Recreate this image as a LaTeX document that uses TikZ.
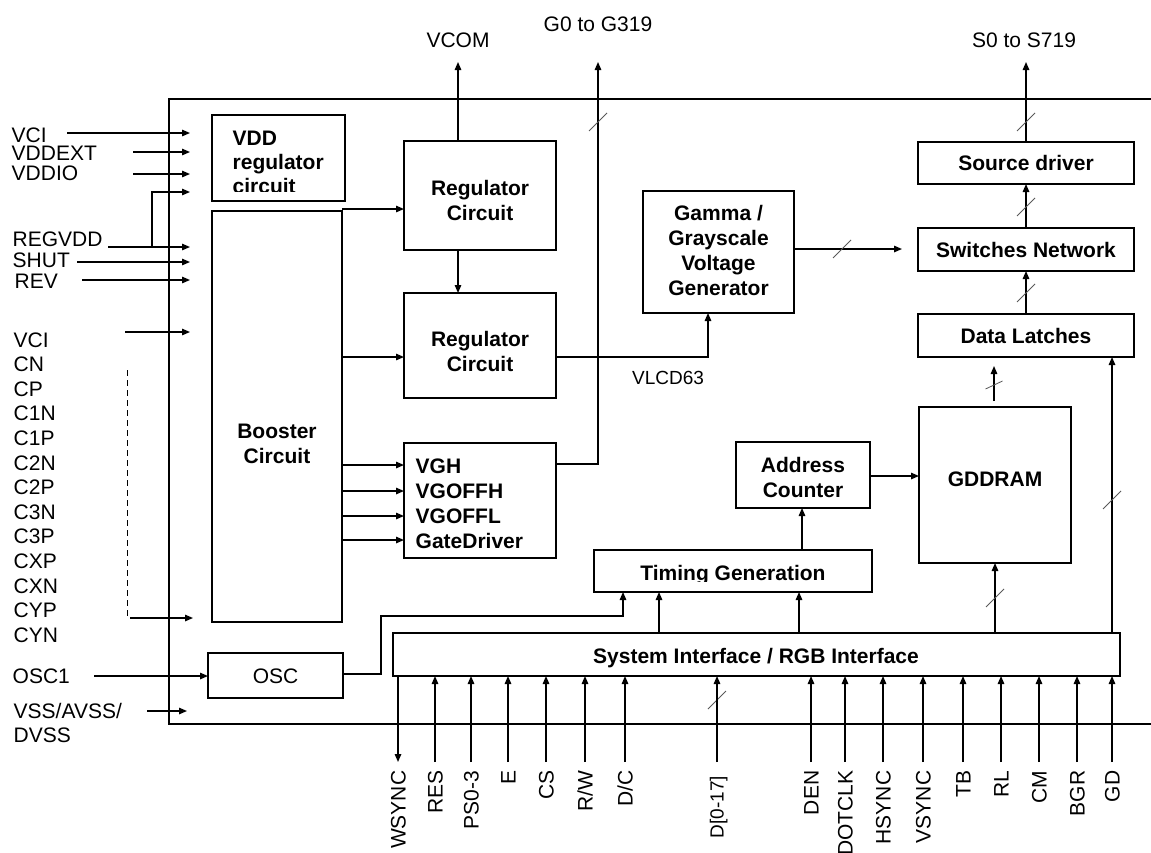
\documentclass[tikz,border=0pt]{standalone}
\usepackage{fontspec}
\setmainfont{Liberation Sans}
\usetikzlibrary{arrows.meta,calc}
\begin{document}
\begin{tikzpicture}[x=1pt,y=-1pt,
  line width=1.4pt,
  blk/.style={draw, line width=1.4pt, inner sep=0pt, outer sep=0pt},
  lbl/.style={font=\fontsize{21}{25}\selectfont, inner sep=0pt, anchor=base west},
  btxt/.style={font=\fontsize{21}{25}\selectfont\bfseries, inner sep=0pt, align=center},
  ntxt/.style={font=\fontsize{21}{25}\selectfont, inner sep=0pt},
  arr/.style={-{Triangle[length=8pt,width=6.5pt]}, line width=1.4pt},
  pinlbl/.style={font=\fontsize{21}{25}\selectfont, inner sep=0pt, rotate=90, anchor=base east},
  slashmark/.pic={\draw[line width=0.8pt, black!65] (-9,9) -- (9,-9);},
  flatslash/.pic={\draw[line width=0.8pt, black!65] (-8.5,4) -- (8.5,-4);}
]
\useasboundingbox (0,0) rectangle (1151,852);

% chip outline
\draw[line width=1.2pt] (1151,99) -- (169,99) -- (169,724) -- (1151,724);

% blocks
\node[blk, minimum width=133pt, minimum height=86pt]  (vdd)    at (278.5,158) {};
\node[blk, minimum width=130pt, minimum height=411pt] (boost)  at (277,416.5) {};
\node[blk, minimum width=152pt, minimum height=109pt] (reg1)   at (480,195.5) {};
\node[blk, minimum width=152pt, minimum height=105pt] (reg2)   at (480,345.5) {};
\node[blk, minimum width=152pt, minimum height=115pt] (vgh)    at (480,500.5) {};
\node[blk, minimum width=151pt, minimum height=122pt] (gamma)  at (718.5,252) {};
\node[blk, minimum width=216pt, minimum height=42pt]  (src)    at (1026,163) {};
\node[blk, minimum width=216pt, minimum height=43pt]  (sw)     at (1026,249.5) {};
\node[blk, minimum width=216pt, minimum height=43pt]  (dl)     at (1026,335.5) {};
\node[blk, minimum width=152pt, minimum height=156pt] (gdd)    at (995,485) {};
\node[blk, minimum width=134pt, minimum height=66pt]  (addr)   at (803,475) {};
\node[blk, minimum width=278pt, minimum height=42pt]  (timing) at (733,571) {};
\node[blk, minimum width=727pt, minimum height=43pt]  (sys)    at (756.5,654.5) {};
\node[blk, minimum width=135pt, minimum height=45pt]  (osc)    at (275.5,675.5) {};

% block texts
\begin{scope}
  \clip (212,115) rectangle (345,191);
  \node[lbl, font=\fontsize{21}{25}\selectfont\bfseries] (tvdd1) at (232,145) {VDD};
  \node[lbl, font=\fontsize{21}{25}\selectfont\bfseries] (tvdd2) at (232,169) {regulator};
  \node[lbl, font=\fontsize{21}{25}\selectfont\bfseries] (tvdd3) at (232,193) {circuit};
\end{scope}
\node[btxt] (tboost) at (277,443.5) {Booster\\Circuit};
\node[btxt] (treg1) at (480,200) {Regulator\\Circuit};
\node[btxt] (treg2) at (480,351) {Regulator\\Circuit};
\node[lbl, font=\fontsize{21}{25}\selectfont\bfseries] (tvgh1) at (415,473.5) {VGH};
\node[lbl, font=\fontsize{21}{25}\selectfont\bfseries] (tvgh2) at (415,498.5) {VGOFFH};
\node[lbl, font=\fontsize{21}{25}\selectfont\bfseries] (tvgh3) at (415,523.5) {VGOFFL};
\node[lbl, font=\fontsize{21}{25}\selectfont\bfseries] (tvgh4) at (415,548.5) {GateDriver};
\node[btxt] (tgamma) at (718.5,250) {Gamma /\\Grayscale\\Voltage\\Generator};
\node[btxt] (tsrc) at (1026,163) {Source driver};
\node[btxt] (tsw) at (1026,250) {Switches Network};
\node[btxt] (tdl) at (1026,336) {Data Latches};
\node[btxt] (tgdd) at (995,479) {GDDRAM};
\node[btxt] (taddr) at (803,477.5) {Address\\Counter};
\begin{scope}
  \clip (594,550) rectangle (872,581.5);
  \node[btxt, anchor=base] (ttim) at (733,580.5) {Timing Generation};
\end{scope}
\node[btxt, anchor=base] (tsys) at (756,663) {System Interface / RGB Interface};
\node[ntxt] (tosc) at (275.5,676) {OSC};

% top labels
\node[ntxt, anchor=base] (vcom) at (458,47) {VCOM};
\node[ntxt, anchor=base] (glbl) at (598,31) {G0 to G319};
\node[ntxt, anchor=base] (slbl) at (1024,47) {S0 to S719};
\node[ntxt, anchor=base, font=\fontsize{19}{22}\selectfont] (vlcd) at (668,384) {VLCD63};

% left labels
\node[lbl] (lvci)  at (11,142)   {VCI};
\node[lbl] (lvde)  at (11,160)   {VDDEXT};
\node[lbl] (lvio)  at (11,180.5) {VDDIO};
\node[lbl] (lreg)  at (12,246.5) {REGVDD};
\node[lbl] (lshut) at (12,267.5) {SHUT};
\node[lbl] (lrev)  at (14,288.5) {REV};
\foreach \t [count=\i from 0] in {VCI,CN,CP,C1N,C1P,C2N,C2P,C3N,C3P,CXP,CXN,CYP,CYN}
  \node[lbl] (lc\i) at (13,{347+24.6*\i}) {\t};
\node[lbl] (losc) at (12,683)   {OSC1};
\node[lbl] (lvss) at (13,718.5) {VSS/AVSS/};
\node[lbl] (ldvs) at (13,742.5) {DVSS};

% left input arrows
\coordinate (a1s) at (67,133);   \coordinate (a1e) at (190,133);
\coordinate (a2s) at (133,152);  \coordinate (a2e) at (190,152);
\coordinate (a3s) at (133,174);  \coordinate (a3e) at (190,174);
\coordinate (a4s) at (108,247);  \coordinate (a4e) at (190,247);
\coordinate (a4b) at (152,247);  \coordinate (a4t) at (190,192);
\coordinate (a5s) at (77,262);   \coordinate (a5e) at (190,262);
\coordinate (a6s) at (82,280);   \coordinate (a6e) at (190,280);
\coordinate (a7s) at (125,332);  \coordinate (a7e) at (190,332);
\coordinate (d1) at (127,370);   \coordinate (d2) at (127,616);
\coordinate (a8s) at (130,618);  \coordinate (a8e) at (193,618);
\coordinate (a9s) at (94,676);
\coordinate (a10s) at (147,711); \coordinate (a10e) at (187,711);
\draw[arr] (a1s) -- (a1e);
\draw[arr] (a2s) -- (a2e);
\draw[arr] (a3s) -- (a3e);
\draw[arr] (a4s) -- (a4e);
\draw[arr] (a4b) |- (a4t);
\draw[arr] (a5s) -- (a5e);
\draw[arr] (a6s) -- (a6e);
\draw[arr] (a7s) -- (a7e);
\draw[line width=1pt, dash pattern=on 6pt off 4pt] (d1) -- (d2);
\draw[arr] (a8s) -- (a8e);
\draw[arr] (a9s) -- (a9s -| osc.west);
\draw[arr] (a10s) -- (a10e);

% internal connectors
\coordinate (vcomtip) at (458,62);
\coordinate (gtip) at (598,62);
\coordinate (stip) at (1026,62);
\coordinate (oscbend) at (381,616);
\draw[arr] (boost.east |- 0,209) -- (reg1.west |- 0,209);
\draw[arr] (boost.east |- 0,357) -- (reg2.west |- 0,357);
\foreach \yy in {465,491,516,540}
  \draw[arr] (boost.east |- 0,\yy) -- (vgh.west |- 0,\yy);
\draw[arr] (reg1.north -| vcomtip) -- (vcomtip);
\draw[arr] (reg1.south -| vcomtip) -- (reg2.north -| vcomtip);
\draw[arr] (reg2.east |- 0,357) -| (gamma.south -| 708,0);
\draw[arr] (vgh.east |- 0,464) -| (gtip);
\draw[arr, shorten >=16pt] (gamma.east |- 0,249) -- (sw.west |- 0,249);
\draw[arr] (src.north) -- (stip);
\draw[arr] (sw.north) -- (src.south);
\draw[arr] (dl.north) -- (sw.south);
\draw[arr, shorten <=6pt, shorten >=9pt] (gdd.north -| 994,0) -- (dl.south -| 994,0);
\draw[arr] (sys.north -| 1112,0) -- (dl.south -| 1112,0);
\draw[arr] (sys.north -| 995,0) -- (gdd.south -| 995,0);
\draw[arr] (addr.east |- 0,476) -- (gdd.west |- 0,476);
\draw[arr] (timing.north -| 802,0) -- (addr.south -| 802,0);
\draw[arr] (sys.north -| 659,0) -- (timing.south -| 659,0);
\draw[arr] (sys.north -| 799,0) -- (timing.south -| 799,0);
\draw[arr] (osc.east |- 0,674) -| (oscbend) -| (timing.south -| 623,0);

% bus slashes
\pic at (598,122) {slashmark};
\pic at (1026,122) {slashmark};
\pic at (1026,207) {slashmark};
\pic at (1026,293) {slashmark};
\pic at (842,249) {slashmark};
\pic at (994,385) {flatslash};
\pic at (1112,500) {slashmark};
\pic at (995,598) {slashmark};
\pic at (717,700) {slashmark};

% bottom pins
\coordinate (pw) at (398,762);
\draw[arr] (pw |- sys.south) -- (pw);
\node[pinlbl] (lw) at (405.5,770) {WSYNC};
\foreach \xx/\t [count=\i] in {435/RES,471/PS0-3,508/E,546/CS,585/R\slash W,625/D\slash C,811/DEN,845/DOTCLK,883/HSYNC,923/VSYNC,963/TB,1001/RL,1039/CM,1077/BGR,1112/GD}{
  \coordinate (p\i) at (\xx,762);
  \draw[arr] (p\i) -- (p\i |- sys.south);
  \node[pinlbl] (lp\i) at (\xx+7.5,770) {\t};
}
\coordinate (pd) at (717,762);
\draw[arr] (pd) -- (pd |- sys.south);
\node[pinlbl, font=\fontsize{19}{22}\selectfont] (lpd) at (723.5,775) {D[0-17]};
\end{tikzpicture}
\end{document}
